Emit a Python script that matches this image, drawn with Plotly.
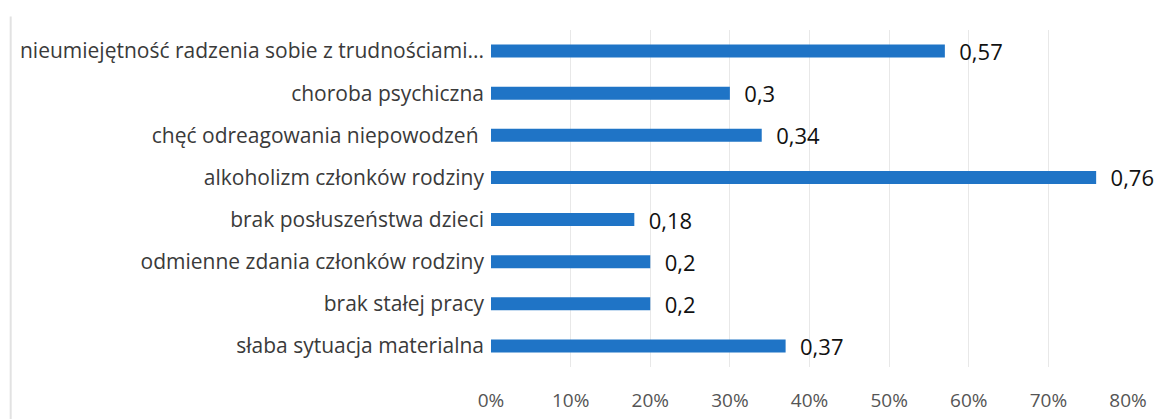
"""
Horizontal bar chart: causes of domestic violence (share of responses).
"""

import plotly.graph_objects as go

# Data (bottom to top, as drawn by Plotly)
CATEGORIES = [
    "słaba sytuacja materialna",
    "brak stałej pracy",
    "odmienne zdania członków rodziny",
    "brak posłuszeństwa dzieci",
    "alkoholizm członków rodziny",
    "chęć odreagowania niepowodzeń ",
    "choroba psychiczna",
    "nieumiejętność radzenia sobie z trudnościami...",
]
VALUES = [0.37, 0.2, 0.2, 0.18, 0.76, 0.34, 0.3, 0.57]
TICK_VALUES = [0, 0.1, 0.2, 0.3, 0.4, 0.5, 0.6, 0.7, 0.8]

BAR_COLOR = "#1f74c6"
FONT = "'Open Sans', Lato, sans-serif"

labels = ["  " + str(v).replace(".", ",") for v in VALUES]

fig = go.Figure(go.Bar(
    x=VALUES,
    y=CATEGORIES,
    orientation="h",
    marker=dict(color=BAR_COLOR, line=dict(width=0)),
    text=labels,
    textposition="outside",
    constraintext="none",
    cliponaxis=False,
    textfont=dict(size=22, color="#111111", family=FONT),
    hoverinfo="x+y",
))

# faint chart border on the left edge
fig.add_shape(
    type="line", xref="paper", yref="paper",
    x0=-0.754, x1=-0.754, y0=-0.2, y1=1.04,
    line=dict(color="#e2e2e2", width=2),
)

fig.update_layout(
    width=1169,
    height=419,
    margin=dict(l=480, r=49, t=22, b=60),
    paper_bgcolor="white",
    plot_bgcolor="white",
    bargap=0.69,
    showlegend=False,
    font=dict(family=FONT, size=18, color="#404040"),
    xaxis=dict(
        range=[0, 0.8],
        tickvals=TICK_VALUES,
        tickformat=".0%",
        showgrid=True,
        gridcolor="#e8e8e8",
        gridwidth=1,
        zeroline=False,
        showline=False,
        ticklabelstandoff=20,
        tickfont=dict(size=19, color="#555555"),
        fixedrange=True,
    ),
    yaxis=dict(
        showgrid=False,
        zeroline=False,
        showline=False,
        ticklabelstandoff=6,
        tickfont=dict(size=21, color="#3a3a3a"),
        fixedrange=True,
    ),
)

fig.write_html("out.html")
